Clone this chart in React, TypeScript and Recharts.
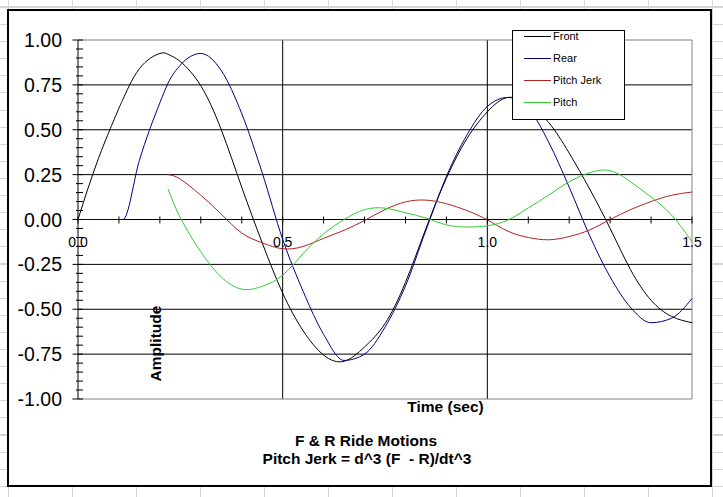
import React from 'react';
import { LineChart, Line, XAxis, YAxis, CartesianGrid, ReferenceLine, ReferenceDot, Legend } from 'recharts';

const time = [0, 0.05, 0.1, 0.11, 0.15, 0.2, 0.22, 0.25, 0.3, 0.35, 0.4, 0.45, 0.5, 0.55, 0.6, 0.65, 0.7, 0.75, 0.8, 0.85, 0.9, 0.95, 1.0, 1.05, 1.1, 1.15, 1.2, 1.25, 1.3, 1.35, 1.4, 1.45, 1.5];
const front = [0, 0.34, 0.62, 0.67, 0.84, 0.925, 0.92, 0.88, 0.745, 0.5, 0.18, -0.13, -0.41, -0.62, -0.755, -0.79, -0.71, -0.58, -0.35, -0.05, 0.23, 0.45, 0.6, 0.68, 0.64, 0.54, 0.37, 0.17, -0.05, -0.28, -0.45, -0.54, -0.575];
const rear = [0, 0, 0, 0, 0.33, 0.65, 0.76, 0.86, 0.925, 0.83, 0.59, 0.26, -0.11, -0.4, -0.64, -0.785, -0.75, -0.6, -0.37, -0.06, 0.24, 0.47, 0.63, 0.68, 0.62, 0.43, 0.18, -0.09, -0.32, -0.49, -0.575, -0.55, -0.44];
const pitchJerk = [null, null, null, null, null, null, 0.25, 0.225, 0.135, 0.03, -0.075, -0.13, -0.163, -0.15, -0.105, -0.06, -0.005, 0.055, 0.098, 0.108, 0.088, 0.05, -0.002, -0.065, -0.1, -0.113, -0.095, -0.058, 0, 0.055, 0.1, 0.135, 0.153];
const pitch = [null, null, null, null, null, null, 0.17, 0.01, -0.18, -0.32, -0.388, -0.372, -0.31, -0.19, -0.08, 0, 0.055, 0.063, 0.038, 0.008, -0.03, -0.042, -0.035, -0.003, 0.064, 0.136, 0.21, 0.26, 0.272, 0.21, 0.125, 0.025, -0.124];

const seriesNames = ['Front', 'Rear', 'Pitch Jerk', 'Pitch'];
const seriesColors = ['#000000', '#000080', '#b22222', '#33cc33'];

const yTickValues = [-1, -0.95, -0.9, -0.85, -0.8, -0.75, -0.7, -0.65, -0.6, -0.55, -0.5, -0.45, -0.4, -0.35, -0.3, -0.25, -0.2, -0.15, -0.1, -0.05, 0, 0.05, 0.1, 0.15, 0.2, 0.25, 0.3, 0.35, 0.4, 0.45, 0.5, 0.55, 0.6, 0.65, 0.7, 0.75, 0.8, 0.85, 0.9, 0.95, 1];
const yGridValues = [-0.75, -0.5, -0.25, 0, 0.25, 0.5, 0.75];
const xGridValues = [0.5, 1.0];
const xMinorTicks = [0, 0.1, 0.2, 0.3, 0.4, 0.5, 0.6, 0.7, 0.8, 0.9, 1.0, 1.1, 1.2, 1.3, 1.4, 1.5];
const xLabelValues = [0, 0.5, 1.0, 1.5];
const xLabelTexts = ['0.0', '0.5', '1.0', '1.5'];

const data = time.map((t, i) => ({ t, front: front[i], rear: rear[i], pitchJerk: pitchJerk[i], pitch: pitch[i] }));

const FONT = '"Liberation Sans", Arial, sans-serif';

const YTick = (props: any) => {
  const { x, y, payload } = props;
  const v = payload.value as number;
  const major = Math.abs(v * 4 - Math.round(v * 4)) < 1e-6;
  return (
    <g>
      <line x1={x - (major ? 5.5 : 2)} x2={x + 5} y1={y} y2={y} stroke="#000" strokeWidth={1} />
      {major && (
        <text x={x - 16} y={y} dy="0.36em" textAnchor="end" fontSize={19.5} fontFamily={FONT} fill="#000">
          {v.toFixed(2)}
        </text>
      )}
    </g>
  );
};

const renderLegend = (props: any) => {
  const payload = [...(props.payload || [])].sort(
    (a: any, b: any) => seriesNames.indexOf(a.value) - seriesNames.indexOf(b.value)
  );
  return (
    <div style={{ width: 113, height: 90, border: '1px solid #000', background: '#fff', boxSizing: 'border-box', position: 'relative', fontFamily: FONT, fontSize: 11, color: '#000' }}>
      {payload.map((e: any, i: number) => (
        <div key={i} style={{ position: 'absolute', left: 0, top: -6 + i * 22, height: 22, lineHeight: '22px', whiteSpace: 'nowrap' }}>
          <span style={{ position: 'absolute', left: 11, top: 11, width: 27, height: 1, background: e.color }} />
          <span style={{ position: 'absolute', left: 40, top: 0 }}>{e.value}</span>
        </div>
      ))}
    </div>
  );
};

export default function App() {
  return (
    <div style={{ position: 'absolute', left: 0, top: 0, width: 723, height: 497, background: '#fff', overflow: 'hidden',
      backgroundImage: 'repeating-linear-gradient(to right, #d6d6d6 0 1px, transparent 1px 64px), repeating-linear-gradient(to bottom, #d6d6d6 0 1px, transparent 1px 17.1px)',
      backgroundPosition: '8px 0px, 0px 7px' }}>
      <div style={{ position: 'absolute', left: 7, top: 9, width: 705, height: 478, border: '2px solid #000', boxSizing: 'border-box', background: '#fff' }}>
        <LineChart width={701} height={474} data={data} margin={{ top: 29, right: 18, bottom: 86, left: 0 }}>
          <XAxis dataKey="t" type="number" domain={[0, 1.5]} hide />
          <YAxis type="number" domain={[-1, 1]} ticks={yTickValues} interval={0} width={69} tickSize={0} tickMargin={0} tickLine={false} axisLine={{ stroke: '#000' }} tick={<YTick />} allowDataOverflow />
          <CartesianGrid horizontalValues={yGridValues} verticalValues={xGridValues} stroke="#000" strokeDasharray="" />
          <ReferenceLine y={1} stroke="#808080" />
          <ReferenceLine y={-1} stroke="#808080" />
          <ReferenceLine x={1.5} stroke="#808080" />
          {xMinorTicks.map((t) => (
            <ReferenceDot key={'mt' + t} x={t} y={0} r={0} shape={(p: any) => <line x1={p.cx} x2={p.cx} y1={p.cy - 3} y2={p.cy + 4} stroke="#000" />} />
          ))}
          {xLabelValues.map((t, i) => (
            <ReferenceDot key={'lb' + t} x={t} y={0} r={0} shape={(p: any) => (
              <text x={p.cx} y={p.cy + 27.5} textAnchor="middle" fontSize={14} fontFamily={FONT} fill="#000">{xLabelTexts[i]}</text>
            )} />
          ))}
          <Line type="natural" dataKey="front" name={seriesNames[0]} stroke={seriesColors[0]} strokeWidth={1} dot={false} activeDot={false} isAnimationActive={false} legendType="line" />
          <Line type="monotone" dataKey="rear" name={seriesNames[1]} stroke={seriesColors[1]} strokeWidth={1} dot={false} activeDot={false} isAnimationActive={false} legendType="line" />
          <Line type="natural" dataKey="pitchJerk" name={seriesNames[2]} stroke={seriesColors[2]} strokeWidth={1} dot={false} activeDot={false} isAnimationActive={false} legendType="line" />
          <Line type="natural" dataKey="pitch" name={seriesNames[3]} stroke={seriesColors[3]} strokeWidth={1} dot={false} activeDot={false} isAnimationActive={false} legendType="line" />
          <Legend layout="vertical" verticalAlign="middle" align="center" content={renderLegend}
            wrapperStyle={{ position: 'absolute', left: 503, top: 19, width: 113, height: 90, margin: 0 }} />
        </LineChart>
      </div>
      <svg width={723} height={497} style={{ position: 'absolute', left: 0, top: 0, pointerEvents: 'none' }}>
        <g fontFamily={FONT} fontWeight="bold" fontSize={15.5} fill="#000">
          <text x={155.5} y={343.5} textAnchor="middle" dy="0.35em" transform="rotate(-90 155.5 343.5)">Amplitude</text>
          <text x={445.5} y={407} textAnchor="middle" dy="0.35em">Time (sec)</text>
          <text x={366} y={441} textAnchor="middle" dy="0.35em">F &amp; R Ride Motions</text>
          <text x={367} y={458.5} textAnchor="middle" dy="0.35em" style={{ whiteSpace: 'pre' }}>{'Pitch Jerk = d^3 (F  - R)/dt^3'}</text>
        </g>
      </svg>
    </div>
  );
}
